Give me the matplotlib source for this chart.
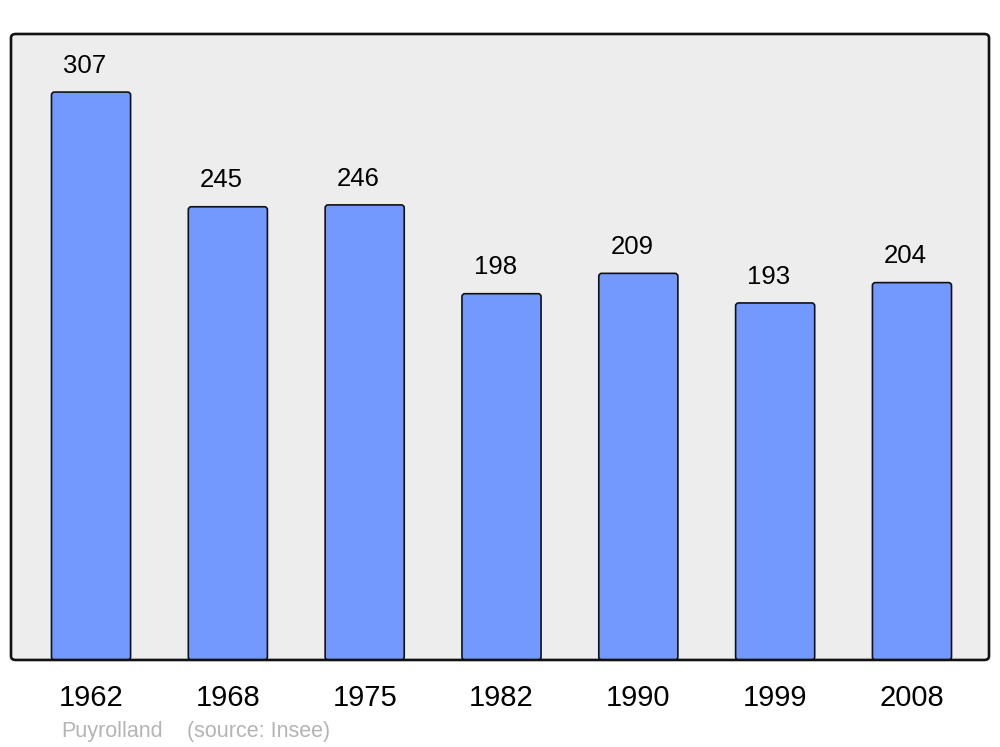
import matplotlib
matplotlib.use("Agg")
import matplotlib.pyplot as plt
from matplotlib.patches import FancyBboxPatch

plt.rcParams['font.family'] = ['Liberation Sans', 'DejaVu Sans']

# --- data ------------------------------------------------------------
years = ["1962", "1968", "1975", "1982", "1990", "1999", "2008"]
population = [307, 245, 246, 198, 209, 193, 204]
commune = "Puyrolland"
source = "(source: Insee)"

# --- figure ----------------------------------------------------------
fig = plt.figure(figsize=(10, 7.47), dpi=100)
ax = fig.add_axes([0.011, 0.1165, 0.978, 0.838])
ax.set_facecolor("none")

# rounded frame
bg = FancyBboxPatch((0, 0), 1, 1, boxstyle="round,pad=0,rounding_size=0.005",
                    transform=ax.transAxes, facecolor="#ededed", edgecolor="none",
                    zorder=0, clip_on=False, mutation_aspect=1.2)
ax.add_patch(bg)
edge = FancyBboxPatch((0, 0), 1, 1, boxstyle="round,pad=0,rounding_size=0.005",
                      transform=ax.transAxes, facecolor="none", edgecolor="#111111",
                      linewidth=1.9, zorder=5, clip_on=False, mutation_aspect=1.2)
ax.add_patch(edge)

x = range(len(years))
bars = ax.bar(x, population, width=0.578, color="#7399ff", edgecolor="#111111",
              linewidth=1.2, zorder=2)

# swap the bars for rounded-corner versions (same geometry)
for r in bars.patches:
    rb = FancyBboxPatch((r.get_x(), r.get_y()), r.get_width(), r.get_height(),
                        boxstyle="round,pad=0,rounding_size=0.022",
                        mutation_aspect=74, facecolor="#7399ff",
                        edgecolor="#111111", linewidth=1.2, zorder=2)
    ax.add_patch(rb)
    r.set_visible(False)

for xi, v in zip(x, population):
    ax.annotate(str(v), (xi, v), xytext=(-4.5, 19), textcoords="offset points",
                ha="center", va="center", fontsize=18.5, color="black")

ax.set_xlim(-0.585, 6.563)
ax.set_ylim(0, 338.4)
for s in ax.spines.values():
    s.set_visible(False)
ax.set_yticks([])
ax.set_xticks(list(x))
ax.set_xticklabels(years, fontsize=21)
ax.tick_params(axis="x", length=0, pad=17)

fig.text(0.061, 0.013, commune, color="#b4b4b4", fontsize=15.5, ha="left", va="baseline")
fig.text(0.187, 0.013, source, color="#b4b4b4", fontsize=15.5, ha="left", va="baseline")

fig.savefig("out.png", dpi=100)
